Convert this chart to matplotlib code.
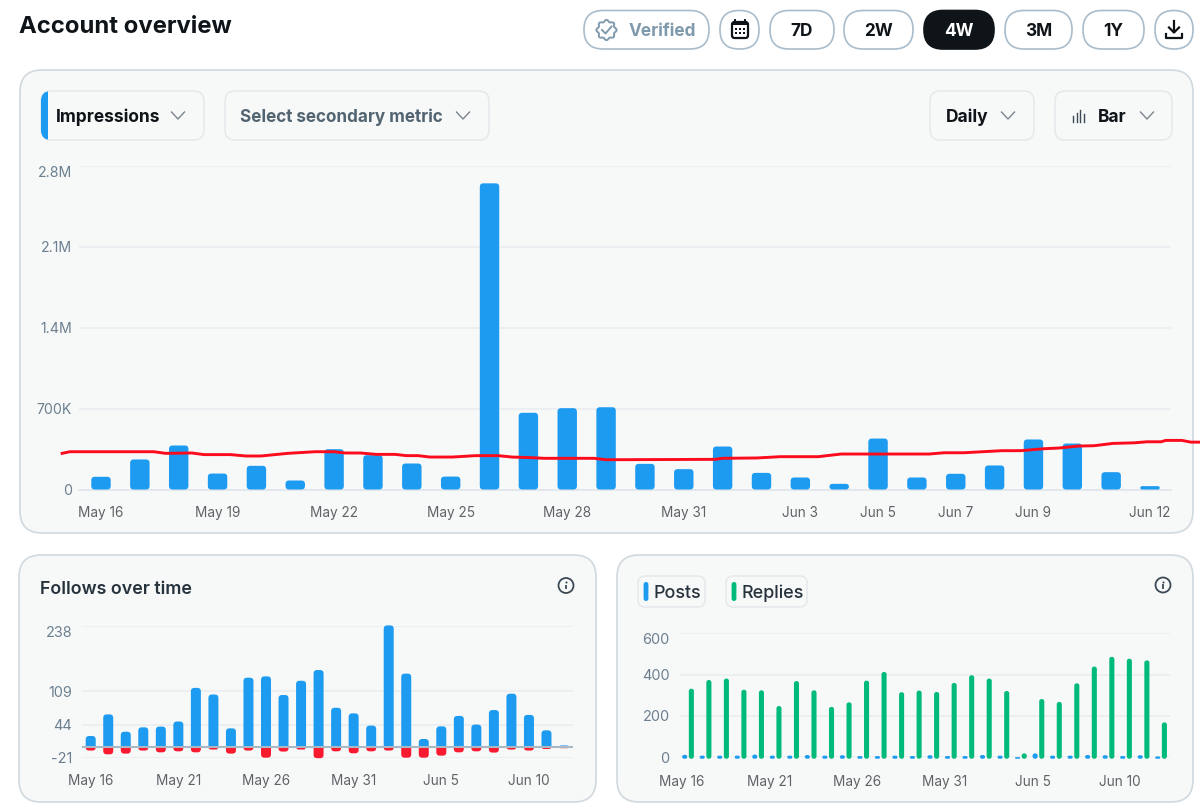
import matplotlib
matplotlib.use('Agg')
import matplotlib.pyplot as plt
import numpy as np
from matplotlib.lines import Line2D
from matplotlib.patches import Circle, FancyBboxPatch, Polygon, Rectangle

plt.rcParams['font.family'] = ['Inter', 'DejaVu Sans']

W, H = 1200, 810

BLUE = '#1d9bf0'
RED = '#f91a2f'
GREEN = '#00ba7c'
INK = '#0f1419'
SLATE = '#536471'
TICK_Y = '#6c7f8f'
TICK_X = '#5f6266'
CARD = '#f7f9f9'
CARD_EDGE = '#cfd9de'
PILL_EDGE = '#e6eaec'
GRID = '#e9edf0'

# daily impressions
impressions = [110e3, 260e3, 381e3, 138e3, 205e3, 78e3, 349e3, 297e3, 225e3, 112e3,
               2650e3, 664e3, 704e3, 712e3, 222e3, 176e3, 372e3, 144e3, 104e3, 49e3,
               441e3, 104e3, 136e3, 208e3, 433e3, 398e3, 150e3, 29e3]
impression_ticks = [0, 700e3, 1400e3, 2100e3, 2800e3]
impression_ticklabels = ['0', '700K', '1.4M', '2.1M', '2.8M']
impression_date_idx = [0, 3, 6, 9, 12, 15, 18, 20, 22, 24, 27]
impression_dates = ['May 16', 'May 19', 'May 22', 'May 25', 'May 28', 'May 31',
                    'Jun 3', 'Jun 5', 'Jun 7', 'Jun 9', 'Jun 12']

# red trend line on top of the impressions
trend_x = [-1.0, -0.8, 1.36, 1.66, 2.34, 2.65, 3.33, 3.73, 4.12, 4.81, 5.51, 6.0, 6.28, 6.68,
           7.08, 7.57, 7.86, 8.16, 8.46, 9.05, 9.64, 10.22, 10.58, 11.12, 11.4, 12.69, 12.99,
           13.36, 15.8, 16.0, 16.89, 17.48, 18.46, 19.05, 21.31, 21.7, 22.2, 23.19, 23.68,
           24.27, 24.66, 25.15, 25.56, 26.05, 26.59, 26.92, 27.28, 27.41, 27.82, 28.05, 28.29]
trend_y = [313e3, 327e3, 327e3, 313e3, 316e3, 302e3, 302e3, 290e3, 290e3, 313e3, 327e3, 327e3,
           316e3, 316e3, 304e3, 304e3, 293e3, 293e3, 281e3, 281e3, 293e3, 293e3, 281e3, 275e3,
           270e3, 270e3, 258e3, 258e3, 261e3, 270e3, 273e3, 284e3, 284e3, 307e3, 307e3, 318e3,
           318e3, 336e3, 336e3, 353e3, 359e3, 376e3, 379e3, 399e3, 404e3, 413e3, 413e3, 425e3,
           425e3, 410e3, 410e3]

follows = [21.6, 64, 30, 38.6, 40, 50, 116, 103, 36.6, 136, 138.6, 102, 130, 151,
           77, 66, 42, 238.6, 144, 15.7, 40.5, 61, 44, 72.5, 104.6, 63, 32.7, 4]
unfollows = [-7, -14.4, -13, -7, -10.5, -8.5, -10.5, -5, -13, -7, -21, -9, -5, -22,
             -8.5, -12.4, -8.5, -7, -21, -21, -17, -10.5, -8.5, -11, -5, -7, -4, -3]
follow_ticks = [-21, 44, 109, 238]
follow_ticklabels = ['-21', '44', '109', '238']

posts = [12, 8, 8, 8, 13, 8, 8, 11, 8, 10, 6, 6, 8, 6,
         10, 6, 6, 11, 8, 1, 19, 8, 8, 11, 10, 6, 10, 4]
replies = [332, 374, 381, 327, 324, 248, 369, 324, 244, 266, 371, 413, 315, 323,
           316, 360, 397, 381, 321, 19, 282, 268, 358, 439, 486, 477, 469, 169]
post_ticks = [0, 200, 400, 600]
post_ticklabels = ['0', '200', '400', '600']

small_date_idx = [0, 5, 10, 15, 20, 25]
small_dates = ['May 16', 'May 21', 'May 26', 'May 31', 'Jun 5', 'Jun 10']


def px_axes(fig, x0, x1, y0, y1):
    # axes placed by pixel box, y counted from the top of the figure
    ax = fig.add_axes([x0 / W, 1 - y1 / H, (x1 - x0) / W, (y1 - y0) / H])
    ax.patch.set_alpha(0)
    for s in ax.spines.values():
        s.set_visible(False)
    return ax


def round_bar(ax, x, y0, y1, width, radius, color, clip=None, zorder=3):
    # rounded bar, radius in pixels, works in data units of ax
    bbox = ax.get_window_extent()
    xl, yl = ax.get_xlim(), ax.get_ylim()
    xu = (xl[1] - xl[0]) / bbox.width
    yu = (yl[1] - yl[0]) / bbox.height
    lo, hi = min(y0, y1), max(y0, y1)
    r = min(radius, (hi - lo) / yu / 2, width / xu / 2)
    p = FancyBboxPatch((x - width / 2, lo), width, hi - lo,
                       boxstyle='round,pad=0,rounding_size=%f' % (r * xu),
                       mutation_aspect=yu / xu, fc=color, ec='none', zorder=zorder, clip_on=False)
    ax.add_patch(p)
    if clip is not None:
        p.set_clip_on(True)
        p.set_clip_path(Rectangle((xl[0], clip[0]), xl[1] - xl[0], clip[1] - clip[0],
                                  transform=ax.transData))
    return p


def box(bg, x0, y0, x1, y1, r, fc, ec, lw=1.2, zorder=1):
    bg.add_patch(FancyBboxPatch((x0, y0), x1 - x0, y1 - y0,
                                boxstyle='round,pad=0,rounding_size=%f' % r,
                                fc=fc, ec=ec, lw=lw, zorder=zorder))


def chevron(bg, x, y, color='#7b858d'):
    bg.plot([x - 6.5, x, x + 6.5], [y - 3.5, y + 3.5, y - 3.5], color=color, lw=1.0, zorder=4)


def info_icon(bg, x, y):
    bg.add_patch(Circle((x, y), 7.5, fc='none', ec='#3c4a55', lw=1.3, zorder=4))
    bg.plot([x, x], [y - 0.8, y + 3.8], color='#3c4a55', lw=1.3, solid_capstyle='butt', zorder=4)
    bg.plot([x], [y - 3.4], 'o', ms=1.5, mew=0, color='#3c4a55', zorder=4)


def style_small(ax, ticks, ticklabels, dates, pad):
    ax.set_yticks(ticks)
    ax.set_yticklabels(ticklabels)
    ax.set_xticks(dates[0])
    ax.set_xticklabels(dates[1])
    ax.tick_params(length=0)
    ax.tick_params(axis='y', labelsize=10.4, labelcolor=TICK_Y, pad=pad)
    ax.tick_params(axis='x', labelsize=9.8, labelcolor=TICK_X)
    ax.grid(axis='y', color=GRID, lw=1.2, zorder=0)
    ax.set_axisbelow(True)
    # the top label hangs under its grid line
    ax.get_yticklabels()[-1].set_va('top')


fig = plt.figure(figsize=(W / 100, H / 100), dpi=100, facecolor='white')

# background layer in pixel coordinates: cards, buttons, titles
bg = fig.add_axes([0, 0, 1, 1])
bg.set_xlim(0, W)
bg.set_ylim(H, 0)
bg.axis('off')

bg.text(19, 27, 'Account overview', fontsize=17.15, fontweight='bold', color=INK, va='center')

# range buttons
pills = [(770, 834, '7D'), (844, 913, '2W'), (924, 994, '4W'), (1005, 1072, '3M'), (1083, 1144, '1Y')]
for x0, x1, label in pills:
    on = label == '4W'
    box(bg, x0, 10.5, x1, 49, 19, INK if on else 'white', INK if on else '#a9bccb')
    bg.text((x0 + x1) / 2, 31.5, label, fontsize=12.4, fontweight='bold',
            color='white' if on else INK, ha='center', va='center', zorder=5)

box(bg, 584, 10.5, 709, 49, 19, 'white', '#a9bccb')
bg.text(629, 31.5, 'Verified', fontsize=12.4, fontweight='bold', color='#7f99ad', va='center', zorder=5)
ang = np.linspace(0, 2 * np.pi, 120)
rad = 9.2 + 0.9 * np.cos(8 * ang)
bg.add_patch(Polygon(np.c_[606.5 + rad * np.cos(ang), 30 + rad * np.sin(ang)], fc='none',
                     ec='#7f99ad', lw=1.4, zorder=5))
bg.plot([602, 605.5, 611.5], [30, 33.5, 26.5], color='#7f99ad', lw=1.4, zorder=5)

box(bg, 720, 10.5, 759, 49, 19, 'white', '#a9bccb')
box(bg, 732, 22, 748, 38, 2.5, 'none', INK, lw=1.6, zorder=5)
bg.add_patch(Rectangle((732, 22), 16, 3, fc=INK, ec='none', zorder=5))
bg.plot([735, 735], [20, 23], color=INK, lw=1.4, zorder=5)
bg.plot([745, 745], [20, 23], color=INK, lw=1.4, zorder=5)
for dx in (736, 740, 744):
    for dy in (29, 33):
        bg.add_patch(Rectangle((dx - 0.9, dy - 0.9), 1.8, 1.8, fc=INK, ec='none', zorder=5))

box(bg, 1155, 10.5, 1193, 49, 19, 'white', '#a9bccb')
bg.plot([1174, 1174], [21, 32], color=INK, lw=1.6, zorder=5)
bg.plot([1169, 1174, 1179], [27.5, 32.5, 27.5], color=INK, lw=1.6, zorder=5)
bg.plot([1166, 1166, 1182, 1182], [33.5, 38, 38, 33.5], color=INK, lw=1.6, zorder=5)

# cards
box(bg, 20, 70, 1193, 533, 22, CARD, CARD_EDGE)
box(bg, 19, 555, 596, 802, 22, CARD, CARD_EDGE)
box(bg, 617, 555, 1193, 802, 22, CARD, CARD_EDGE)

# dropdowns of the main card
for x0, x1 in [(41, 204), (225, 489), (930, 1034), (1055, 1172)]:
    box(bg, x0, 91, x1, 140, 10, CARD, PILL_EDGE, zorder=2)
strip = Rectangle((40, 90), 8, 50, fc=BLUE, ec='none', zorder=3)
bg.add_patch(strip)
strip.set_clip_path(FancyBboxPatch((41, 91), 163, 49, boxstyle='round,pad=0,rounding_size=10',
                                   transform=bg.transData))
bg.text(56, 117, 'Impressions', fontsize=12.5, fontweight='bold', color=INK, va='center', zorder=4)
bg.text(240.5, 117, 'Select secondary metric', fontsize=12.3, fontweight='bold', color=SLATE,
        va='center', zorder=4)
bg.text(946, 117, 'Daily', fontsize=12.5, fontweight='bold', color=INK, va='center', zorder=4)
bg.text(1098, 117, 'Bar', fontsize=12.5, fontweight='bold', color=INK, va='center', zorder=4)
for cx in (178, 463, 1008, 1147):
    chevron(bg, cx, 115.5)
for cx, top in [(1073, 116), (1076.5, 113), (1080, 109.5), (1084, 114)]:
    bg.plot([cx, cx], [top, 122], color='#3c4a55', lw=1, zorder=4)

# card headers
bg.text(40, 590, 'Follows over time', fontsize=12.85, fontweight='semibold', color='#26323c',
        va='center', zorder=4)
info_icon(bg, 566, 585.5)
info_icon(bg, 1163, 585)

box(bg, 638, 576, 705, 607, 7, CARD, PILL_EDGE, zorder=2)
box(bg, 726, 576, 807, 607, 7, CARD, PILL_EDGE, zorder=2)
for cx, col in [(646, BLUE), (734, GREEN)]:
    box(bg, cx - 2.4, 582, cx + 2.4, 601, 2.4, col, 'none', lw=0, zorder=4)
bg.text(653.5, 593.5, 'Posts', fontsize=12.9, fontweight='medium', color='#26323c', va='center', zorder=4)
bg.text(741.5, 593.5, 'Replies', fontsize=12.9, fontweight='medium', color='#26323c', va='center', zorder=4)

# impressions with the trend line
ax = px_axes(fig, 79, 1171, 166, 489.5)
ax.set_xlim(-0.566, 27.54)
ax.set_ylim(0, 2800e3)
days = np.arange(len(impressions))
for d, v in zip(days, impressions):
    round_bar(ax, d, 0, v, 0.5, 3.5, BLUE)
ax.plot(trend_x, trend_y, color='#fb0b1c', lw=2.1, clip_on=False, zorder=6)
ax.set_yticks(impression_ticks)
ax.set_yticklabels(impression_ticklabels)
ax.set_xticks(impression_date_idx)
ax.set_xticklabels(impression_dates)
ax.tick_params(length=0)
ax.tick_params(axis='y', labelsize=10.2, labelcolor=TICK_Y, pad=5)
ax.tick_params(axis='x', labelsize=9.8, labelcolor=TICK_X, pad=12)
ax.grid(axis='y', color=GRID, lw=1.2, zorder=0)
ax.set_axisbelow(True)
ax.get_yticklabels()[-1].set_va('top')
ax.add_line(Line2D([0, 1], [0, 0], transform=ax.get_yaxis_transform(), color='#dfe5ea', lw=1.2,
                   zorder=1, clip_on=False))

# follows / unfollows
ax2 = px_axes(fig, 82, 573, 625.7, 757.7)
ax2.set_xlim((82 - 90.7) / 17.53, (573 - 90.7) / 17.53)
ax2.set_ylim(-21, 238)
for d, up, down in zip(range(len(follows)), follows, unfollows):
    alpha_col = (BLUE if d < 27 else '#7fc4f3', RED if d < 27 else '#f3a9b0')
    round_bar(ax2, d, -6, up, 0.57, 3.5, alpha_col[0], clip=(0, 300))
    round_bar(ax2, d, down, 6, 0.57, 3.5, alpha_col[1], clip=(-100, 0))
ax2.axhline(0, color='#a9b8c4', lw=1.5, zorder=5)
style_small(ax2, follow_ticks, follow_ticklabels, (small_date_idx, small_dates), 7)
ax2.tick_params(axis='x', pad=12)

# posts and replies
ax3 = px_axes(fig, 680, 1170, 633.3, 757.3)
ax3.set_xlim((680 - 684.7) / 17.52, (1170 - 684.7) / 17.52)
ax3.set_ylim(0, 600)
for d, p, r in zip(range(len(posts)), posts, replies):
    round_bar(ax3, d, -7, p, 0.29, 2.4, BLUE)
    round_bar(ax3, d + 0.38, -7, r, 0.29, 2.4, GREEN)
style_small(ax3, post_ticks, post_ticklabels, ([i - 0.15 for i in small_date_idx], small_dates), 7.5)
ax3.tick_params(axis='x', pad=12.5)

fig.savefig('out.png', dpi=100)
